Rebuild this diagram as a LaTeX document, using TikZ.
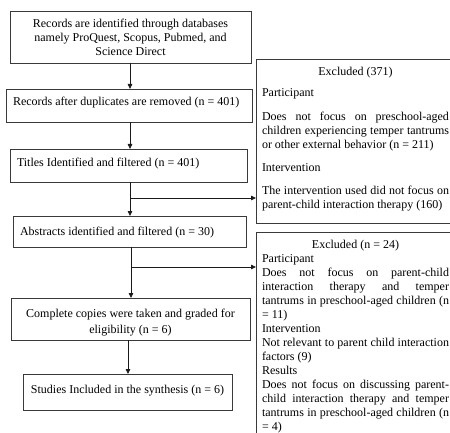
\documentclass[tikz,border=0pt]{standalone}
\usepackage{fontspec}
\setmainfont{Liberation Serif}
\usetikzlibrary{arrows.meta}
\definecolor{boxc}{HTML}{3A3A3A}
\definecolor{linec}{HTML}{1A1A1A}
\tikzset{
  mbox/.style={draw=boxc, line width=0.9pt, inner ysep=0pt, outer sep=0pt, anchor=north west,
    font=\fontsize{12}{14}\selectfont},
  arr/.style={draw=linec, line width=0.8pt, -{Triangle[length=5pt,width=4.5pt]}},
}
\begin{document}
\begin{tikzpicture}[x=1pt,y=-1pt]
\useasboundingbox (0,0) rectangle (450,433);
\clip (0,0) rectangle (450,433);
% main column
\node[mbox, inner xsep=4pt, text width=233pt, align=flush center, text height=17pt, text depth=35pt] (b1) at (10,11)
  {Records are identified through databases\\namely ProQuest, Scopus, Pubmed, and\\Science Direct};
\node[mbox, inner xsep=7pt, text width=232pt, align=flush left, text height=17pt, text depth=16pt] (b2) at (6,89)
  {Records after duplicates are removed (n = 401)};
\node[mbox, inner xsep=7pt, text width=223pt, align=flush left, text height=18pt, text depth=15pt] (b3) at (10,149)
  {Titles Identified and filtered (n = 401)};
\node[mbox, inner xsep=7pt, text width=219pt, align=flush left, text height=19pt, text depth=12pt] (b4) at (13,216)
  {Abstracts identified and filtered (n = 30)};
\node[mbox, inner xsep=4pt, text width=231pt, align=flush center, text height=19pt, text depth=23pt] (b5) at (11,298)
  {Complete copies were taken and graded for\\[2pt]eligibility (n = 6)};
\node[mbox, inner xsep=4pt, text width=201pt, align=flush center, text height=19pt, text depth=17pt] (b6) at (23,374)
  {Studies Included in the synthesis (n = 6)};
% excluded boxes
\node[mbox, inner xsep=6pt, text width=187pt, align=justify, text height=17pt, text depth=147pt] (e1) at (256,59)
  {\hspace*{\fill}Excluded (371)\hspace*{\fill}\\[7pt]
   Participant\\[10pt]
   Does not focus on preschool-aged\linebreak children experiencing temper tantrums\linebreak or other external behavior (n = 211)\\[9pt]
   Intervention\\[9pt]
   The intervention used did not focus on\linebreak parent-child interaction therapy (160)};
\node[mbox, inner xsep=6pt, text width=187pt, align=justify, text height=16pt, text depth=200pt] (e2) at (256,232)
  {\hspace*{\fill}Excluded (n = 24)\hspace*{\fill}\\
   Participant\\
   Does not focus on parent-child\linebreak interaction therapy and temper\linebreak tantrums in preschool-aged children (n\linebreak = 11)\\
   Intervention\\
   Not relevant to parent child interaction\linebreak factors (9)\\
   Results\\
   Does not focus on discussing parent-\linebreak child interaction therapy and temper\linebreak tantrums in preschool-aged children (n\linebreak = 4)};
% connectors
\coordinate (xa) at (130,0);
\coordinate (xb) at (128,0);
\coordinate (j1) at (130,198);
\coordinate (j2) at (131,267);
\draw[arr] (b1.south -| xa) -- (b2.north -| xa);
\draw[arr] (b2.south -| xa) -- (b3.north -| xa);
\draw[arr] (b3.south -| j1) -- (b4.north -| j1);
\draw[arr] (j1) -- (j1 -| e1.west);
\draw[arr] (b4.south -| j2) -- (b5.north -| j2);
\draw[arr] (j2) -- (j2 -| e2.west);
\draw[arr] (b5.south -| xb) -- (b6.north -| xb);
\end{tikzpicture}
\end{document}
